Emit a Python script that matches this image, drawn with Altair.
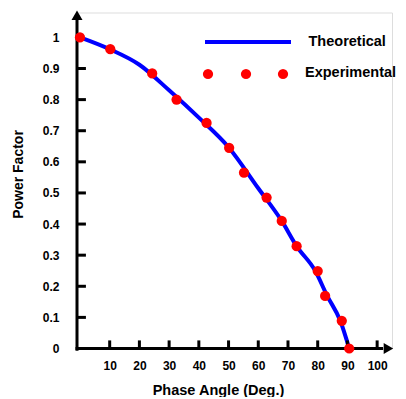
import altair as alt
import pandas as pd

# Theoretical curve
theo_angle = [0, 10, 20, 30, 40, 50, 60, 67.9, 72.9, 79.2, 83.2, 87.6, 90.6]
theo_pf = [1.0, 0.962, 0.912, 0.83, 0.742, 0.647, 0.515, 0.41, 0.329, 0.249, 0.169, 0.089, 0.0]

# Experimental points
exp_angle = [0, 10.2, 24.3, 32.5, 42.6, 50.2, 55.2, 62.8, 67.9, 72.9, 80.0, 82.5, 88.1, 90.6]
exp_pf = [1.0, 0.962, 0.884, 0.80, 0.725, 0.645, 0.565, 0.485, 0.41, 0.329, 0.249, 0.169, 0.089, 0.0]

x_ticks = [10, 20, 30, 40, 50, 60, 70, 80, 90, 100]
y_ticks = [0, 0.1, 0.2, 0.3, 0.4, 0.5, 0.6, 0.7, 0.8, 0.9, 1]

FONT = "Liberation Sans"

xs = alt.Scale(domain=[-1, 105], nice=False, zero=False)
ys = alt.Scale(domain=[0, 1.08], nice=False, zero=False)

xax = alt.Axis(
    values=x_ticks, domain=False, ticks=False, grid=False, labelPadding=12,
    labelFont=FONT, labelFontSize=12, labelFontWeight="bold", labelColor="black",
    title="Phase Angle (Deg.)", titleFont=FONT, titleFontSize=14.5, titleFontWeight="bold",
    titleColor="black", titleX=141, titleY=41.5, titleBaseline="middle", titleAlign="center")
yax = alt.Axis(
    values=y_ticks, format="~g", domain=False, ticks=False, grid=False, labelPadding=18,
    labelFont=FONT, labelFontSize=12, labelFontWeight="bold", labelColor="black",
    title="Power Factor", titleFont=FONT, titleFontSize=14, titleFontWeight="bold",
    titleColor="black", titleX=-59, titleY=161.5, titleBaseline="middle", titleAlign="center")

theo = pd.DataFrame({"a": theo_angle, "pf": theo_pf})
expd = pd.DataFrame({"a": exp_angle, "pf": exp_pf})
xt = pd.DataFrame({"v": x_ticks})
yt = pd.DataFrame({"v": y_ticks[1:-1]})
one = pd.DataFrame({"d": [0]})

XT = "Phase Angle (Deg.)"
YT = "Power Factor"

line = alt.Chart(theo).mark_line(color="#0000FF", strokeWidth=4, interpolate="monotone").encode(
    x=alt.X("a:Q", scale=xs, axis=xax, title=XT),
    y=alt.Y("pf:Q", scale=ys, axis=yax, title=YT),
)

pts = alt.Chart(expd).mark_circle(color="#FF0000", size=105, opacity=1).encode(
    x=alt.X("a:Q", scale=xs, axis=xax, title=XT),
    y=alt.Y("pf:Q", scale=ys, axis=yax, title=YT),
)

# axis lines with arrowheads
yaxis = alt.Chart(one).mark_rule(color="black", strokeWidth=3).encode(
    x=alt.X(datum=-1, scale=xs, axis=xax, title=XT),
    y=alt.Y(datum=-0.007, scale=ys, axis=yax, title=YT), y2=alt.datum(1.06))
xaxis = alt.Chart(one).mark_rule(color="black", strokeWidth=3).encode(
    y=alt.Y(datum=0, scale=ys, axis=yax, title=YT),
    x=alt.X(datum=-1.5, scale=xs, axis=xax, title=XT), x2=alt.datum(102))
up = alt.Chart(one).mark_point(shape="triangle-up", filled=True, color="black", size=121, opacity=1).encode(
    x=alt.X(datum=-1, scale=xs, axis=xax, title=XT),
    y=alt.Y(datum=1.0715, scale=ys, axis=yax, title=YT))
right = alt.Chart(one).mark_point(shape="triangle-right", filled=True, color="black", size=121, opacity=1).encode(
    x=alt.X(datum=103.8, scale=xs, axis=xax, title=XT),
    y=alt.Y(datum=0, scale=ys, axis=yax, title=YT))

# inward ticks
ytk = alt.Chart(yt).mark_rule(color="black", strokeWidth=3).encode(
    y=alt.Y("v:Q", scale=ys, axis=yax, title=YT),
    x=alt.X(datum=-1, scale=xs, axis=xax, title=XT), x2=alt.datum(2))
xtk = alt.Chart(xt).mark_rule(color="black", strokeWidth=3).encode(
    x=alt.X("v:Q", scale=xs, axis=xax, title=XT),
    y=alt.Y(datum=0, scale=ys, axis=yax, title=YT), y2=alt.datum(0.026))

# custom legend
leg_line = alt.Chart(one).mark_rule(color="#0000FF", strokeWidth=4).encode(
    x=alt.value(128), x2=alt.value(214), y=alt.value(29.5))
leg_dots = alt.Chart(pd.DataFrame({"px": [131, 169, 206]})).mark_circle(color="#FF0000", size=105, opacity=1).encode(
    x=alt.X("px:Q", scale=None), y=alt.value(61.5))
leg_t1 = alt.Chart(pd.DataFrame({"t": ["Theoretical"]})).mark_text(
    font=FONT, fontSize=14.5, fontWeight="bold", align="left", baseline="middle", color="black").encode(
    x=alt.value(231.5), y=alt.value(29), text="t:N")
leg_t2 = alt.Chart(pd.DataFrame({"t": ["Experimental"]})).mark_text(
    font=FONT, fontSize=14.5, fontWeight="bold", align="left", baseline="middle", color="black").encode(
    x=alt.value(228), y=alt.value(60.5), text="t:N")

chart = alt.layer(line, yaxis, xaxis, up, right, ytk, xtk, pts, leg_line, leg_dots, leg_t1, leg_t2).properties(
    width=315, height=336,
    autosize=alt.AutoSizeParams(type="none"),
    padding={"left": 69, "top": 4.5, "right": 6, "bottom": 48},
).configure_view(stroke=None).configure(background="white")

chart.save("out.html", embed_options={"renderer": "svg", "actions": False})
